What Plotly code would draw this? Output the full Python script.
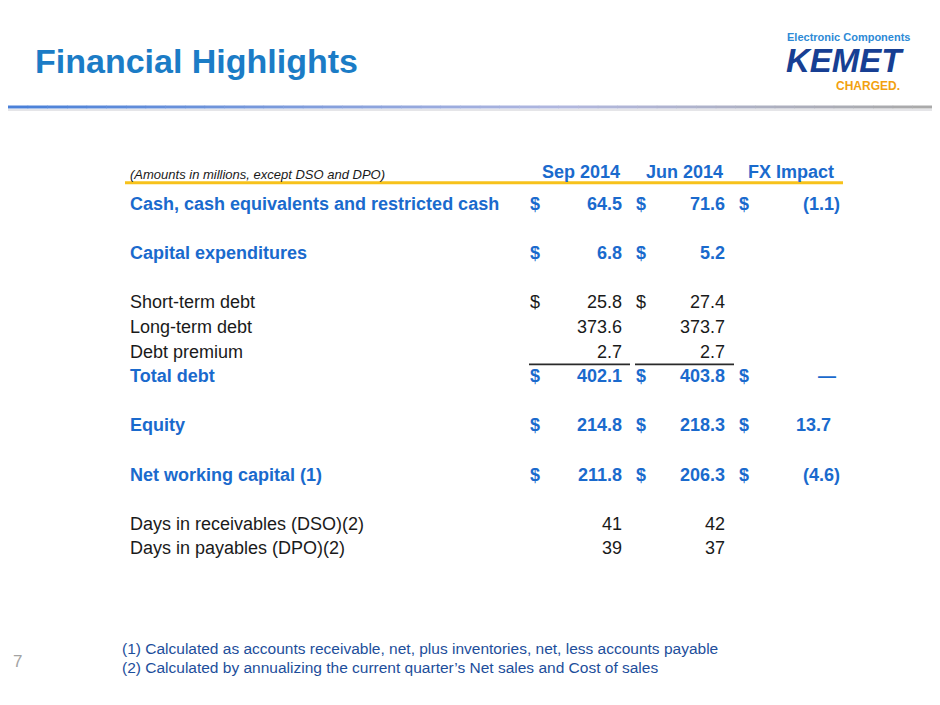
import plotly.graph_objects as go

# slide data
row_labels = [
    "Cash, cash equivalents and restricted cash", "",
    "Capital expenditures", "",
    "Short-term debt", "Long-term debt", "Debt premium", "Total debt", "",
    "Equity", "",
    "Net working capital (1)", "",
    "Days in receivables (DSO)(2)", "Days in payables (DPO)(2)",
]
sep_2014 = [64.5, None, 6.8, None, 25.8, 373.6, 2.7, 402.1, None, 214.8, None, 211.8, None, 41, 39]
jun_2014 = [71.6, None, 5.2, None, 27.4, 373.7, 2.7, 403.8, None, 218.3, None, 206.3, None, 42, 37]
fx_impact = [-1.1, None, None, None, None, None, None, 0.0, None, 13.7, None, -4.6, None, None, None]
dollar_sign = [True, False, True, False, True, False, False, True, False, True, False, True, False, False, False]
highlight = [True, False, True, False, False, False, False, True, False, True, False, True, False, False, False]
column_heads = ["Sep 2014", "Jun 2014", "FX Impact"]
note_text = "(Amounts in millions, except DSO and DPO)"
footnotes = [
    "(1) Calculated as accounts receivable, net, plus inventories, net, less accounts payable",
    "(2) Calculated by annualizing the current quarter\u2019s Net sales and Cost of sales",
]
title = "Financial Highlights"
page_no = "7"

W, H = 940, 705
OFF = 8                      # page body margin of the html file
FW, FH = W - 2 * OFF, H - 2 * OFF
FONT = "Liberation Sans, Arial, Helvetica, sans-serif"
BLUE = "#1a6acd"
TITLE_BLUE = "#1b7cc6"
BLACK = "#1a1a1a"

# pixel layout of the table (window pixels)
first_row_px = 204
pitch = 24.6
label_x = 128
columns = [(528, 624), (634, 727), (737, 833)]  # (dollar x, value right edge)


def fmt(v):
    if v is None:
        return ""
    if isinstance(v, int):
        return str(v)
    if v == 0:
        return "\u2014"
    if v < 0:
        return "({:.1f})".format(abs(v))
    return "{:.1f}".format(v)


def py(px):
    return 1 - (px - OFF) / FH


fig = go.Figure()
fig.add_trace(go.Scatter(x=[OFF, OFF + FW], y=[0, 0], mode="markers", marker=dict(opacity=0), hoverinfo="skip"))

ann = []
shapes = []

# table body
for i, label in enumerate(row_labels):
    if not label:
        continue
    color = BLUE if highlight[i] else BLACK
    font = dict(family=FONT, size=18, color=color, weight="bold" if highlight[i] else "normal")
    ann.append(dict(x=label_x, y=i, text=label, xanchor="left", font=font))
    for (dx, rx), vals in zip(columns, [sep_2014, jun_2014, fx_impact]):
        v = vals[i]
        if v is None:
            continue
        if dollar_sign[i]:
            ann.append(dict(x=dx, y=i, text="$", xanchor="left", font=font))
        shift = 9 if (not isinstance(v, int) and v < 0) else (5 if v == 0 else 0)
        ann.append(dict(x=rx + shift, y=i, text=fmt(v), xanchor="right", font=font))

# header row
head_y = -1.3
ann.append(dict(x=label_x, y=head_y + 0.1, text=note_text, xanchor="left",
                font=dict(family=FONT, size=13, color=BLACK, style="italic")))
for (dx, rx), h in zip(columns, column_heads):
    ann.append(dict(x=rx - 2 + (5 if h == "FX Impact" else 0), y=head_y, text=h, xanchor="right",
                    font=dict(family=FONT, size=18, color=BLUE, weight="bold")))
shapes.append(dict(type="line", xref="x", yref="y", x0=125, x1=843, y0=-0.86, y1=-0.86,
                   line=dict(color="#f7c21b", width=3)))

# subtotal rules above total debt
total_i = row_labels.index("Total debt")
for x0, x1 in [(529, 630), (635, 734)]:
    shapes.append(dict(type="line", xref="x", yref="y", x0=x0, x1=x1, y0=total_i - 0.48, y1=total_i - 0.48,
                       line=dict(color="#2a2a2a", width=1.6)))

for a in ann:
    a.update(xref="x", yref="y", yanchor="middle", showarrow=False)

# title, logo, page number, footnotes
ann.append(dict(x=33, y=py(61), xref="x", yref="paper", text="<b>" + title + "</b>", xanchor="left",
                yanchor="middle", showarrow=False, font=dict(family=FONT, size=34, color=TITLE_BLUE)))
ann.append(dict(x=848, y=py(37), xref="x", yref="paper", text="<b>Electronic Components</b>", xanchor="center",
                yanchor="middle", showarrow=False, font=dict(family=FONT, size=11, color="#2d8ad6")))
ann.append(dict(x=845, y=py(61), xref="x", yref="paper", text="<b><i>KEMET</i></b>", xanchor="center",
                yanchor="middle", showarrow=False, font=dict(family=FONT, size=33, color="#173f93")))
ann.append(dict(x=868, y=py(86), xref="x", yref="paper", text="<b>CHARGED.</b>", xanchor="center",
                yanchor="middle", showarrow=False, font=dict(family=FONT, size=12, color="#f2a10f")))
ann.append(dict(x=11, y=py(661), xref="x", yref="paper", text=page_no, xanchor="left",
                yanchor="middle", showarrow=False, font=dict(family=FONT, size=17, color="#a3a3a3")))
for k, line in enumerate(footnotes):
    ann.append(dict(x=120, y=py(648 + 19 * k), xref="x", yref="paper", text=line, xanchor="left",
                    yanchor="middle", showarrow=False, font=dict(family=FONT, size=15.5, color="#1d4e9b")))

# gradient rule under the title (blue fading to grey)
n = 47
c0, c1, c2 = (74, 128, 216), (178, 184, 224), (170, 170, 170)
for k in range(n):
    t = k / (n - 1)
    if t < 0.6:
        u = t / 0.6
        c = [int(a + (b - a) * u) for a, b in zip(c0, c1)]
    else:
        u = (t - 0.6) / 0.4
        c = [int(a + (b - a) * u) for a, b in zip(c1, c2)]
    x0 = OFF + FW * k / n
    shapes.append(dict(type="line", xref="x", yref="paper", x0=x0 - OFF * (k == 0), x1=x0 + FW / n + 0.5,
                       y0=py(107), y1=py(107), line=dict(color="rgb({},{},{})".format(*c), width=3)))
shapes.append(dict(type="line", xref="x", yref="paper", x0=0, x1=W, y0=py(110), y1=py(110),
                   line=dict(color="rgba(180,180,190,0.35)", width=2)))

fig.update_layout(
    width=FW, height=FH,
    margin=dict(l=0, r=0, t=0, b=0),
    paper_bgcolor="white", plot_bgcolor="white",
    showlegend=False,
    xaxis=dict(range=[OFF, OFF + FW], visible=False, fixedrange=True),
    yaxis=dict(range=[(OFF + FH - first_row_px) / pitch, (OFF - first_row_px) / pitch],
               visible=False, fixedrange=True),
    annotations=ann,
    shapes=shapes,
)

fig.write_html("out.html")
